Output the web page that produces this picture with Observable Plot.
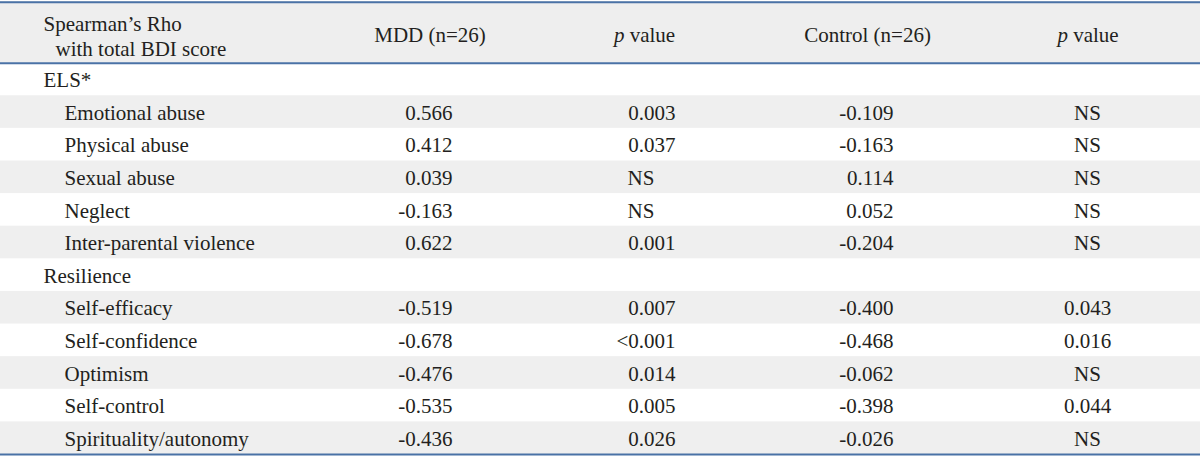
<!DOCTYPE html>
<html><head><meta charset="utf-8">
<script src="https://cdn.jsdelivr.net/npm/d3@7"></script>
<script src="https://cdn.jsdelivr.net/npm/@observablehq/plot@0.6"></script>
<style>
html,body{margin:0;padding:0;background:#fff;}
#chart svg{display:block;}
</style></head><body><div id="chart"></div>
<script>
// ---- data ----
const rowLabels = ["ELS*","Emotional abuse","Physical abuse","Sexual abuse","Neglect","Inter-parental violence",
  "Resilience","Self-efficacy","Self-confidence","Optimism","Self-control","Spirituality/autonomy"];
const groupRows = ["ELS*","Resilience"];
const mddRho  = [null, 0.566, 0.412, 0.039, -0.163, 0.622, null, -0.519, -0.678, -0.476, -0.535, -0.436];
const mddP    = [null, "0.003", "0.037", "NS", "NS", "0.001", null, "0.007", "<0.001", "0.014", "0.005", "0.026"];
const ctrlRho = [null, -0.109, -0.163, 0.114, 0.052, -0.204, null, -0.400, -0.468, -0.062, -0.398, -0.026];
const ctrlP   = [null, "NS", "NS", "NS", "NS", "NS", null, "0.043", "0.016", "NS", "0.044", "NS"];
const headerTitle = ["Spearman\u2019s Rho", "with total BDI score"];
const headerCols = ["MDD (n=26)", "p value", "Control (n=26)", "p value"];

// ---- layout ----
const W = 1200, H = 457;
const headerUnits = 1.89;
const col = {cat: 43, item: 64, mdd: 452, mddPnum: 675, mddPns: 627, ctrl: 893, ctrlP: 1087};
const headerX = [429.5, 644, 867, 1087.5];
const FS = 21;
const ink = "#231f20";
const fmt = v => v.toFixed(3);

const rows = rowLabels.map((label, i) => ({
  label, i, group: groupRows.includes(label),
  mddRho: mddRho[i], mddP: mddP[i], ctrlRho: ctrlRho[i], ctrlP: ctrlP[i]
}));
const body = rows.filter(d => !d.group);
const hdr = headerCols.map((t, k) => ({t, x: headerX[k]}));

const txt = {fontSize: FS, fill: ink, lineAnchor: "middle", dy: 1};

const plot = Plot.plot({
  width: W, height: H, margin: 0,
  x: {type: "linear", domain: [0, W], range: [0, W], axis: null},
  y: {type: "linear", domain: [-headerUnits, rowLabels.length], range: [1, 454], axis: null},
  style: {fontFamily: "'Liberation Serif','Times New Roman',serif", background: "#fff"},
  marks: [
    Plot.rect([0], {x1: 0, x2: W, y1: -headerUnits, y2: 0, fill: "#eeeeee"}),
    Plot.rect(rows.filter(d => d.i % 2 === 1), {x1: 0, x2: W, y1: d => d.i, y2: d => d.i + 1, fill: "#efefef"}),
    Plot.ruleY([-headerUnits + 0.02, 0, rowLabels.length], {stroke: "#4a72a6", strokeWidth: 2}),
    // header
    Plot.text([headerTitle[0]], {x: col.cat, y: -1.22, text: d => d, textAnchor: "start", ...txt}),
    Plot.text([headerTitle[1]], {x: col.cat + 12, y: -0.46, text: d => d, textAnchor: "start", ...txt}),
    Plot.text(hdr, {x: "x", y: -0.9, text: "t", textAnchor: "middle", ...txt}),
    // row labels
    Plot.text(rows, {x: d => d.group ? col.cat : col.item, y: d => d.i + 0.5, text: "label", textAnchor: "start", ...txt}),
    // MDD rho
    Plot.text(body, {x: col.mdd, y: d => d.i + 0.5, text: d => fmt(d.mddRho), textAnchor: "end", ...txt}),
    // MDD p
    Plot.text(body.filter(d => d.mddP !== "NS"), {x: col.mddPnum, y: d => d.i + 0.5, text: "mddP", textAnchor: "end", ...txt}),
    Plot.text(body.filter(d => d.mddP === "NS"), {x: col.mddPns, y: d => d.i + 0.5, text: "mddP", textAnchor: "start", ...txt}),
    // Control rho
    Plot.text(body, {x: col.ctrl, y: d => d.i + 0.5, text: d => fmt(d.ctrlRho), textAnchor: "end", ...txt}),
    // Control p
    Plot.text(body, {x: col.ctrlP, y: d => d.i + 0.5, text: "ctrlP", textAnchor: "middle", ...txt})
  ]
});

// italic "p" in "p value" headers
plot.querySelectorAll("text").forEach(t => {
  if (t.textContent === "p value") {
    t.textContent = "";
    const ns = "http://www.w3.org/2000/svg";
    const a = document.createElementNS(ns, "tspan");
    a.setAttribute("font-style", "italic");
    a.textContent = "p";
    const b = document.createElementNS(ns, "tspan");
    b.textContent = "\u00a0value";
    t.appendChild(a); t.appendChild(b);
  }
});
document.getElementById("chart").appendChild(plot);
</script>
</body></html>
